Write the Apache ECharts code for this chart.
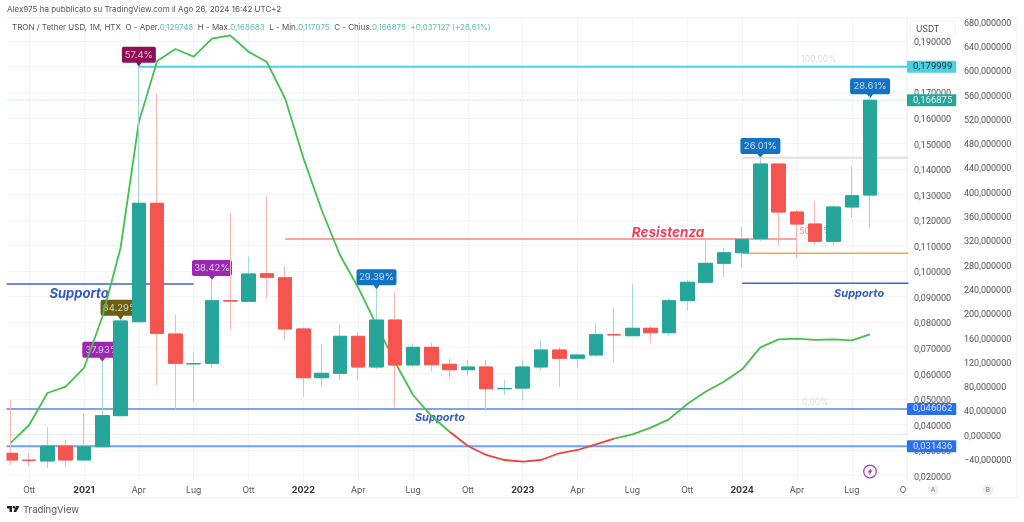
<!DOCTYPE html>
<html>
<head>
    <meta charset="utf-8" />
    <title>TRON / Tether USD</title>
    <script src="https://cdn.jsdelivr.net/npm/echarts@6/dist/echarts.min.js" type="text/javascript"></script>
    <style>
        html,body{
            width: 100%;
            height: 100%;
            margin: 0px;
            padding: 0px;
            background: #fff;
        }
        #main{
            width: 1024px;
            height: 522px;
        }
    </style>
</head>
<body>
    <div id="main"></div>
</body>
<script type="text/javascript">
    // monthly candles, sep 2020 -> aug 2024, x value = month number
    var opens  = [.02869,.02600,.02568,.03155,.02607,.03127,.04341,.08020,.12654,.07538,.06370,.06391,
                  .08840,.08818,.09898,.09742,.07734,.05828,.06000,.07448,.06247,.08086,.06325,.07018,
                  .06352,.06141,.06247,.05397,.05420,.06247,.06912,.06587,.06716,.07511,.07470,.07761,
                  .07589,.08842,.09562,.10305,.10720,.11268,.14192,.12313,.11843,.11166,.12509,.129748];
    var closes = [.02607,.02590,.03155,.02607,.03127,.04341,.08047,.12654,.07566,.06391,.06380,.08842,
                  .08830,.09887,.09757,.07734,.05828,.06000,.07448,.06247,.08086,.06325,.07018,.06337,
                  .06141,.06247,.05397,.05405,.06247,.06912,.06587,.06716,.07511,.07505,.07761,.07589,
                  .08842,.09562,.10305,.10720,.11245,.14192,.12313,.11843,.11166,.12509,.12951,.166875];
    var lows   = [.02411,.02372,.02294,.02344,.02590,.03100,.04320,.07969,.05542,.04591,.04888,.06235,
                  .07722,.08800,.08935,.07303,.05084,.05503,.05738,.05738,.06157,.04669,.06235,.06078,
                  .05828,.05906,.04536,.05151,.04955,.06102,.05475,.06196,.06650,.06442,.07460,.07174,
                  .07487,.08450,.09550,.09757,.10110,.11166,.11022,.10501,.11022,.10994,.12090,.117075];
    var highs  = [.04955,.02892,.03910,.03389,.04434,.06454,.08100,.18000,.16959,.08282,.06806,.09652,
                  .12262,.10564,.12912,.10172,.07800,.07147,.07930,.07617,.09288,.09182,.07174,.07198,
                  .06571,.06521,.06521,.05738,.06548,.07292,.07018,.06783,.07957,.08556,.09483,.07851,
                  .08959,.09652,.11245,.10904,.11738,.14427,.14192,.12391,.12744,.12587,.14113,.168683];
    // green average, read on the B scale
    var maValues = [-13.5,15.6,68.3,78.7,109.5,193.4,307,514.4,614.8,634.6,621.9,651.5,
                    657.1,630.1,613.2,553.4,455.1,369.5,295.5,241.6,180.2,119.8,65,30.5,
                    4.6,-18.9,-33.7,-42,-44.8,-42,-30.9,-25.5,-16.1,-6.9,0.3,11.2,
                    25,50.2,70.5,86.9,107.3,143.5,156.7,157.7,155.6,156.7,155,164.9];

    var xTicks = [1,4,7,10,13,16,19,22,25,28,31,34,37,40,43,46,49];
    var xTickLabels = ['Ott','2021','Apr','Lug','Ott','2022','Apr','Lug','Ott','2023','Apr','Lug','Ott','2024','Apr','Lug','O'];
    var priceTicks = [.02,.03,.04,.05,.06,.07,.08,.09,.10,.11,.12,.13,.14,.15,.16,.17,.18,.19];
    var scaleBTicks = [-40,0,40,80,120,160,200,240,280,320,360,400,440,480,520,560,600,640,680];

    // horizontal drawings
    var levelPrices = [.179999,.166875,.046062,.031436,.03605,.09495,.09522,.11256,.14438,.10697];
    var levelStart  = [7,-1,-1,-1,-1,-1,40,15,40,40];
    var levelEnd    = [49.1,49.1,49.1,49.1,49.1,10,49.1,43,49.1,49.1];

    // price tags on the axis
    var axisTagPrices = [.179999,.166875,.046062,.031436];

    // percent flags
    var flagMonths = [7,6,5,11,20,41,47];
    var flagPrices = [.18,.081,.0645,.0965,.0929,.1443,.1677];
    var flagTexts  = ['57.4%','84.29%','37.93%','38.42%','29.39%','26.01%','28.61%'];

    // text notes
    var noteTexts  = ['Supporto','Supporto','Supporto','Resistenza','100,00%','0,00%','50,00%'];
    var noteMonths = [3.73,46.4,23.47,35.95,44.2,44.0,44.0];
    var notePrices = [.09104,.09123,.0427,.11491,.1828,.04877,.1157];

    var legendParts = ['0,129748','0,168683','0,117075','0,166875','+0,037127 (+28,61%)'];

    var font = 'Inter';
    var upColor = '#26a69a', downColor = '#f5544f';
    var fmt = function (v, d) { return v.toFixed(d).replace('.', ','); };
    var months = opens.map(function (o, i) { return i; });

    // TV axis: 18.28px a month, first candle centred at x=10.9
    var xMin = -0.213, xMax = 49.02;
    var levelColor = ['#4dd0e1','#26a69a','#5b84e8','#6ea0ff','#c4c4c4','#3f62d6','#3f62d6','#f7a3a3','#dfdfdf','#f9a445'];
    var levelWidth = [2,1,1.5,2,1,1.5,1.5,2,2,1.5];
    var levelType  = ['solid',[1,2],'solid','solid',[1,2],'solid','solid','solid','solid','solid'];
    var axisTagBg  = ['#4dd0e1','#26a69a','#2a6ff0','#2a6ff0'];
    var axisTagFg  = ['#13343a','#e8f7f5','#dbe7ff','#dbe7ff'];
    var flagColor  = ['#8e0f57','#6b5d12','#9c27b0','#9c27b0','#1272c4','#1272c4','#1272c4'];
    var noteStyle  = [
        { color: '#3557c8', size: 13 }, { color: '#3557c8', size: 11 }, { color: '#3557c8', size: 11 },
        { color: '#f23f5c', size: 13.5 }, { color: '#dcdcdc', size: 8.5 }, { color: '#dcdcdc', size: 8.5 }, { color: '#f28b8b', size: 8.5 }
    ];
    var flagPath = 'path://M2 0H38A2 2 0 0 1 40 2V14A2 2 0 0 1 38 16H23L20 20L17 16H2A2 2 0 0 1 0 14V2A2 2 0 0 1 2 0Z';

    var series = [];
    // flags stay behind the candles
    series.push({
        type: 'scatter', z: 1, symbol: flagPath, symbolOffset: [0, -10], silent: true,
        data: flagMonths.map(function (m, i) {
            return {
                value: [m, flagPrices[i]],
                symbolSize: [i === 0 ? 34 : 40, 20],
                itemStyle: { color: flagColor[i], opacity: 1 },
                label: {
                    show: true, position: 'inside', offset: [0, -2], formatter: flagTexts[i],
                    color: 'rgba(255,255,255,.72)', fontFamily: font, fontSize: 9.5
                }
            };
        })
    });
    // text notes
    series.push({
        type: 'scatter', z: 1, symbolSize: 0, silent: true,
        itemStyle: { opacity: 1 },
        data: noteTexts.map(function (t, i) {
            var isNote = i < 4;
            return {
                value: [noteMonths[i], notePrices[i]],
                label: {
                    show: true, position: 'inside', formatter: t, color: noteStyle[i].color,
                    fontFamily: font, fontSize: noteStyle[i].size,
                    fontWeight: isNote ? 'bold' : 'normal', fontStyle: isNote ? 'italic' : 'normal'
                }
            };
        })
    });
    levelPrices.forEach(function (p, i) {
        series.push({
            type: 'line', z: 2, symbol: 'none', silent: true,
            data: [[levelStart[i], p], [levelEnd[i], p]],
            lineStyle: { color: levelColor[i], width: levelWidth[i], type: levelType[i], opacity: i === 1 ? .55 : 1 }
        });
    });
    // average: red stretch between sep 2022 and jun 2023
    series.push({
        type: 'line', z: 2, yAxisIndex: 1, symbol: 'none', silent: true,
        data: maValues.map(function (v, i) { return [i, (i <= 24 || i >= 33) ? v : null]; }),
        lineStyle: { color: '#45bf50', width: 1.8 }
    });
    series.push({
        type: 'line', z: 2, yAxisIndex: 1, symbol: 'none', silent: true,
        data: maValues.map(function (v, i) { return [i, (i >= 24 && i <= 33) ? v : null]; }),
        lineStyle: { color: '#f0413f', width: 1.8 }
    });
    // pale wicks, then bodies on top
    series.push({
        type: 'candlestick', z: 3, barWidth: 14, silent: true,
        encode: { x: 0, y: [1, 2, 3, 4] },
        data: months.map(function (m, i) { return [m, opens[i], closes[i], lows[i], highs[i]]; }),
        itemStyle: { color: '#a5d9d3', color0: '#f9b3b0', borderColor: '#a5d9d3', borderColor0: '#f9b3b0', borderWidth: 1 }
    });
    series.push({
        type: 'candlestick', z: 3, barWidth: 14, silent: true,
        encode: { x: 0, y: [1, 2, 3, 4] },
        data: months.map(function (m, i) {
            return [m, opens[i], closes[i], Math.min(opens[i], closes[i]), Math.max(opens[i], closes[i])];
        }),
        itemStyle: { color: upColor, color0: downColor, borderColor: upColor, borderColor0: downColor, borderWidth: 1 }
    });
    // price boxes on the scale
    series.push({
        type: 'scatter', z: 10, symbolSize: 0, silent: true, clip: false,
        itemStyle: { opacity: 1 },
        data: axisTagPrices.map(function (p, i) {
            return {
                value: [xMax, p],
                label: {
                    show: true, position: 'right', distance: 0, formatter: fmt(p, 6),
                    backgroundColor: axisTagBg[i], color: axisTagFg[i], borderRadius: 1,
                    padding: [2, 4, 1, 6], fontFamily: 'Roboto', fontSize: 9.5, lineHeight: 9
                }
            };
        })
    });

    // scale labels sit a touch under their tick
    var scaleRich = { n: { fontFamily: 'Roboto', fontSize: 9, color: '#555', padding: [4, 0, 0, 0] } };

    var myChart = echarts.init(document.getElementById('main'));
    myChart.setOption({
        animation: false,
        title: [{
            text: 'Alex975 ha pubblicato su TradingView.com il Ago 26, 2024 16:42 UTC+2',
            left: 7, top: 6, padding: 0,
            textStyle: { fontFamily: font, fontSize: 8, fontWeight: 'normal', color: '#555' }
        }, {
            text: 'TRON / Tether USD, 1M, HTX  O - Aper.{v|' + legendParts[0] + '}  H - Max.{v|' + legendParts[1] +
                '}  L - Min.{v|' + legendParts[2] + '}  C - Chius.{v|' + legendParts[3] + '}  {v|' + legendParts[4] + '}',
            left: 12, top: 24, padding: 0,
            textStyle: {
                fontFamily: font, fontSize: 8, fontWeight: 'normal', color: '#555',
                rich: { v: { fontFamily: font, fontSize: 8, color: '#63bdb2' } }
            }
        }],
        grid: { left: 7, right: 117, top: 18, bottom: 40 },
        xAxis: {
            type: 'value', min: xMin, max: xMax,
            axisLine: { show: false },
            axisTick: { show: false, customValues: xTicks },
            splitLine: { show: true, lineStyle: { color: '#f4f5f7', width: 1 } },
            axisLabel: {
                customValues: xTicks.slice(0, -1).concat([48.8]), margin: 4, hideOverlap: false,
                fontFamily: font, fontSize: 8.6, color: '#555',
                formatter: function (v) {
                    var t = xTickLabels[v === 48.8 ? xTickLabels.length - 1 : xTicks.indexOf(v)];
                    return /^20/.test(t) ? '{y|' + t + '}' : t;
                },
                rich: { y: { fontFamily: font, fontSize: 9, fontWeight: 'bold', color: '#333' } }
            }
        },
        yAxis: [{
            type: 'value', position: 'right', min: .017456, max: .19906, scale: true,
            axisLine: { show: false },
            axisTick: { show: false, customValues: priceTicks },
            splitLine: { show: true, lineStyle: { color: '#f4f5f7', width: 1 } },
            axisLabel: {
                customValues: priceTicks, margin: 7, hideOverlap: false, rich: scaleRich,
                formatter: function (v) { return '{n|' + fmt(v, 6) + '}'; }
            }
        }, {
            type: 'value', position: 'right', offset: 57, min: -78.2, max: 685.6, scale: true,
            axisLine: { show: false },
            axisTick: { show: false, customValues: scaleBTicks },
            splitLine: { show: false },
            axisLabel: {
                customValues: scaleBTicks, margin: 0, hideOverlap: false, rich: scaleRich,
                formatter: function (v) { return '{n|' + fmt(v, 6).replace('-', '\u2212') + '}'; }
            }
        }],
        series: series,
        graphic: [
            // the first candle is cut by the left edge of the pane
            { type: 'rect', z: 50, shape: { x: 0, y: 18, width: 6.5, height: 464 }, style: { fill: '#fff' } },
            // outer frame
            { type: 'line', shape: { x1: 7, y1: 18, x2: 1017, y2: 18 }, style: { stroke: '#f1f2f5' }, z: 0 },
            { type: 'line', shape: { x1: 7, y1: 498, x2: 1017, y2: 498 }, style: { stroke: '#f1f2f5' }, z: 0 },
            { type: 'line', shape: { x1: 907, y1: 18, x2: 907, y2: 498 }, style: { stroke: '#f1f2f5' }, z: 0 },
            { type: 'line', shape: { x1: 1017, y1: 18, x2: 1017, y2: 498 }, style: { stroke: '#f1f2f5' }, z: 0 },
            // USDT box
            { type: 'rect', z: 20, shape: { x: 910, y: 21, width: 45, height: 16, r: 3 }, style: { fill: '#fff', stroke: '#f1f2f5' } },
            { type: 'text', z: 21, x: 916, y: 25, style: { text: 'USDT', fontFamily: font, fontSize: 8.6, fill: '#444' } },
            // A / B buttons
            { type: 'circle', z: 5, shape: { cx: 933, cy: 490, r: 5.5 }, style: { fill: '#eff0f3' } },
            { type: 'text', z: 6, x: 933, y: 490, style: { text: 'A', align: 'center', verticalAlign: 'middle', fontFamily: font, fontSize: 6.5, fill: '#777' } },
            { type: 'circle', z: 5, shape: { cx: 988, cy: 490, r: 5.5 }, style: { fill: '#eff0f3' } },
            { type: 'text', z: 6, x: 988, y: 490, style: { text: 'B', align: 'center', verticalAlign: 'middle', fontFamily: font, fontSize: 6.5, fill: '#777' } },
            // bolt marker
            { type: 'circle', z: 5, shape: { cx: 870, cy: 471.5, r: 6.3 }, style: { fill: '#fff', stroke: '#a63bb5', lineWidth: 1.2 } },
            { type: 'polygon', z: 6, shape: { points: [[871.5, 467.5], [867.5, 472.5], [869.8, 472.5], [868.7, 475.5], [872.7, 470.5], [870.4, 470.5]] }, style: { fill: '#a63bb5' } },
            // tradingview mark
            { type: 'polygon', z: 5, shape: { points: [[7, 506], [12, 506], [12, 512], [9.5, 512], [9.5, 508.5], [7, 508.5]] }, style: { fill: '#222' } },
            { type: 'circle', z: 5, shape: { cx: 14, cy: 507.2, r: 1.3 }, style: { fill: '#222' } },
            { type: 'polygon', z: 5, shape: { points: [[16, 506], [19.5, 506], [16.2, 512], [13.5, 512]] }, style: { fill: '#222' } },
            { type: 'text', z: 5, x: 23, y: 505, style: { text: 'TradingView', fontFamily: font, fontSize: 9.5, fill: '#555' } }
        ]
    });
</script>
</html>
